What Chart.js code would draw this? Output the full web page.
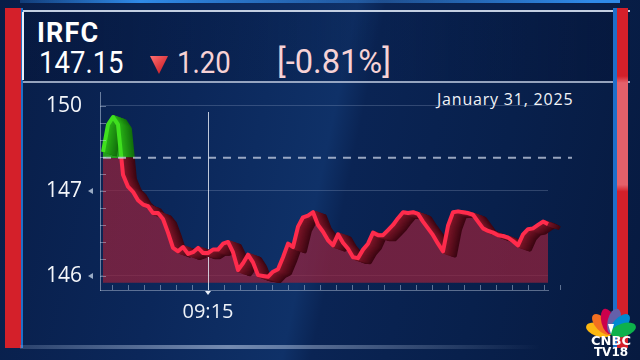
<!DOCTYPE html>
<html>
<head>
<meta charset="utf-8">
<script src="https://cdn.jsdelivr.net/npm/chart.js@4.4.1/dist/chart.umd.min.js"></script>
<style>
  html, body { margin: 0; padding: 0; }
  body {
    width: 640px; height: 360px; overflow: hidden; position: relative;
    background: linear-gradient(102deg, #081d47 0%, #0b275a 30%, #0f3168 50%, #0a2454 54%, #08204c 75%, #071a40 100%);
    font-family: 'Roboto', sans-serif;
  }
  #chart { position: absolute; left: 0; top: 0; }
  .bar { position: absolute; }
  .txt { position: absolute; line-height: 1; white-space: nowrap; transform-origin: 0 0; }
  #head { position: absolute; left: 10px; top: 10px; width: 620px; height: 69px;
    border-top: 2px solid #c3cfe2; border-bottom: 2px solid rgba(185,198,220,0.8);
    background: linear-gradient(90deg, rgba(5,20,55,0.5), rgba(5,25,65,0.2) 60%, rgba(5,20,55,0.5)); }
  #date { position: absolute; left: 437px; top: 91px; color: #f2f4f8; font: 16px 'Open Sans', sans-serif; letter-spacing: 0.8px; line-height: 1; }
  #logo { position: absolute; left: 582px; top: 305px; }
</style>
</head>
<body>
<div class="bar" style="left:20px;top:0px;width:600px;height:3px;background:linear-gradient(90deg,rgba(40,130,230,0.3),#2f8ae8 20%,rgba(60,140,230,0.4) 60%,#2f8ae8 95%);"></div>
<div id="head"></div>
<div class="bar" style="left:5px;top:8px;width:16px;height:340px;background:#d4202a;"></div>
<div class="bar" style="left:21px;top:8px;width:2px;height:340px;background:#1f6fc8;"></div>
<div class="bar" style="left:22px;top:12px;width:2px;height:68px;background:#e8eef8;"></div>
<div class="bar" style="left:613px;top:8px;width:4px;height:340px;background:#1f6fc8;"></div>
<div class="bar" style="left:617px;top:8px;width:11px;height:340px;background:linear-gradient(180deg,#d4202a 0%,#d4202a 20%,#e4606a 22%,#e4606a 52%,#d4202a 54%,#d4202a 100%);"></div>
<div class="bar" style="left:20px;top:345px;width:520px;height:4px;background:linear-gradient(90deg,rgba(180,200,230,0.2),rgba(200,215,240,0.55) 40%,rgba(200,215,240,0));"></div>

<div class="txt" style="left:37px;top:20px;color:#fff;font-size:27px;font-weight:bold;letter-spacing:1.2px;">IRFC</div>
<div class="txt" style="left:39px;top:46px;color:#fff;font-size:32px;transform:scaleX(0.86);">147.15</div>
<svg class="bar" style="left:150px;top:55px;" width="18" height="20" viewBox="0 0 18 20">
  <defs><linearGradient id="tri" x1="0" y1="0" x2="1" y2="1">
    <stop offset="0" stop-color="#ff7070"/><stop offset="1" stop-color="#c0101c"/></linearGradient></defs>
  <polygon points="0,1 18,1 9,19" fill="url(#tri)"/>
</svg>
<div class="txt" style="left:177px;top:46px;color:#f7d2d5;font-size:32px;transform:scaleX(0.86);">1.20</div>
<div class="txt" style="left:277px;top:44px;color:#f7d2d5;font-size:34px;transform:scaleX(0.96);">[-0.81%]</div>
<div id="date">January 31, 2025</div>

<canvas id="chart" width="640" height="360"></canvas>

<svg id="logo" width="58" height="52" viewBox="0 0 58 52">
  <g transform="translate(29,29)">
    <ellipse cx="0" cy="-13" rx="6.5" ry="13" fill="#fcb711" transform="rotate(-72)"/>
    <ellipse cx="0" cy="-13" rx="6.5" ry="13" fill="#f37021" transform="rotate(-43)"/>
    <ellipse cx="0" cy="-13" rx="6.5" ry="13" fill="#cc004c" transform="rotate(-14)"/>
    <ellipse cx="0" cy="-13" rx="6.5" ry="13" fill="#6460aa" transform="rotate(14)"/>
    <ellipse cx="0" cy="-13" rx="6.5" ry="13" fill="#0089d0" transform="rotate(43)"/>
    <ellipse cx="0" cy="-13" rx="6.5" ry="13" fill="#0db14b" transform="rotate(72)"/>
    <path d="M0,0 L-3,-10 L3,-10 Z" fill="#fff"/>
  </g>
  <text x="29" y="40" text-anchor="middle" fill="#fff" font-family="'DejaVu Sans'" font-weight="bold" font-size="13">CNBC</text>
  <text x="29" y="51" text-anchor="middle" fill="#fff" font-family="'DejaVu Sans'" font-weight="bold" font-size="12">TV18</text>
</svg>

<script>
// intraday IRFC prices (one point every few minutes)
const prices = [
  147.46, 147.78, 147.87, 147.78, 147.19, 147.05, 146.99, 146.89, 146.84, 146.82,
  146.74, 146.74, 146.67, 146.51, 146.33, 146.29, 146.34, 146.26, 146.28, 146.33,
  146.27, 146.27, 146.31, 146.31, 146.38, 146.40, 146.28, 146.07, 146.15, 146.25,
  146.16, 146.01, 146.00, 145.99, 146.05, 146.08, 146.22, 146.38, 146.34, 146.58,
  146.69, 146.71, 146.75, 146.60, 146.52, 146.42, 146.36, 146.49, 146.39, 146.32,
  146.22, 146.21, 146.31, 146.38, 146.51, 146.48, 146.48, 146.54, 146.60, 146.68,
  146.75, 146.74, 146.75, 146.73, 146.64, 146.56, 146.48, 146.38, 146.29, 146.59,
  146.75, 146.76, 146.75, 146.74, 146.72, 146.64, 146.56, 146.53, 146.51, 146.48,
  146.47, 146.45, 146.41, 146.36, 146.49, 146.55, 146.56, 146.60, 146.64, 146.61
];
const prevClose = 147.39;        // dashed reference line
const openIndex = 21;            // sample where the 09:15 marker sits
const openLabel = '09:15';
const yTickValues = [146, 147, 148];
const yTickLabels = ['146', '147', '150'];

const GREEN = '#3fe01e', RED = '#ff2b4c';

function splitGradient(chart, top, bottom) {
  const a = chart.chartArea;
  const y = chart.scales.y.getPixelForValue(prevClose);
  const g = chart.ctx.createLinearGradient(0, a.top, 0, a.bottom);
  const s = Math.min(1, Math.max(0, (y - a.top) / (a.bottom - a.top)));
  g.addColorStop(0, top); g.addColorStop(s, top);
  g.addColorStop(s, bottom); g.addColorStop(1, bottom);
  return g;
}

// 3D ribbon behind the price line, plus the chart chrome
const extrude = {
  id: 'extrude',
  beforeDatasetsDraw(chart) {
    const ctx = chart.ctx;
    const pts = chart.getDatasetMeta(0).data;
    const yPrev = chart.scales.y.getPixelForValue(prevClose);
    const { top, bottom } = chart.chartArea;
    const xo = chart.scales.x.getPixelForValue(openIndex);
    // 09:15 marker line
    ctx.save();
    ctx.strokeStyle = 'rgba(235,240,250,0.8)';
    ctx.lineWidth = 1;
    ctx.beginPath(); ctx.moveTo(Math.round(xo) + 0.5, top + 20); ctx.lineTo(Math.round(xo) + 0.5, bottom); ctx.stroke();
    ctx.restore();

    const depth = 14;
    const parts = [
      { y0: 0, y1: yPrev, front: [40, 175, 22], back: [18, 110, 12] },
      { y0: yPrev, y1: 360, front: [125, 22, 40], back: [60, 6, 18] }
    ];
    parts.forEach(p => {
      ctx.save();
      ctx.beginPath(); ctx.rect(0, p.y0, 640, p.y1 - p.y0); ctx.clip();
      ctx.lineWidth = 4; ctx.lineJoin = 'round';
      for (let k = depth; k >= 1; k--) {
        const t = k / depth;
        const c = p.front.map((v, i) => Math.round(v + (p.back[i] - v) * t));
        ctx.strokeStyle = `rgb(${c.join(',')})`;
        ctx.beginPath();
        pts.forEach((pt, i) => {
          const x = pt.x + k * 0.85, y = pt.y + k * 0.3;
          i ? ctx.lineTo(x, y) : ctx.moveTo(x, y);
        });
        ctx.stroke();
      }
      ctx.restore();
    });
  },
  afterDraw(chart) {
    const ctx = chart.ctx;
    const { left, right, top, bottom } = chart.chartArea;
    const sx = chart.scales.x, sy = chart.scales.y;
    ctx.save();
    // previous close
    const yPrev = sy.getPixelForValue(prevClose);
    ctx.setLineDash([8, 7]);
    ctx.strokeStyle = 'rgba(200,210,228,0.75)';
    ctx.lineWidth = 2;
    ctx.beginPath(); ctx.moveTo(left + 3, yPrev); ctx.lineTo(right + 24, yPrev); ctx.stroke();
    ctx.setLineDash([]);
    // minor ticks on the y axis
    ctx.strokeStyle = 'rgba(200,215,235,0.45)';
    ctx.lineWidth = 1;
    for (let v = 145.8; v < 148.15; v += 0.2) {
      const y = Math.round(sy.getPixelForValue(v)) + 0.5;
      if (y < top + 6 || y > bottom) continue;
      ctx.beginPath(); ctx.moveTo(left, y); ctx.lineTo(left + 6, y); ctx.stroke();
    }
    // minor ticks on the x axis
    for (let i = openIndex - 6 * 3.2; i < 93; i += 3.2) {
      const x = Math.round(sx.getPixelForValue(i)) + 0.5;
      if (x < left + 4) continue;
      ctx.beginPath(); ctx.moveTo(x, bottom - 5); ctx.lineTo(x, bottom); ctx.stroke();
    }
    // small pointers next to labels
    ctx.fillStyle = 'rgba(190,205,225,0.8)';
    [146, 147].forEach(v => {
      const y = sy.getPixelForValue(v);
      ctx.beginPath(); ctx.moveTo(88, y); ctx.lineTo(93, y - 3); ctx.lineTo(93, y + 3); ctx.fill();
    });
    const xo = sx.getPixelForValue(openIndex);
    ctx.fillStyle = '#e8eef8';
    ctx.beginPath(); ctx.moveTo(xo - 3, bottom + 1); ctx.lineTo(xo + 3, bottom + 1); ctx.lineTo(xo, bottom + 5); ctx.fill();
    ctx.restore();
  }
};

new Chart(document.getElementById('chart'), {
  type: 'line',
  data: {
    labels: prices.map((_, i) => i),
    datasets: [{
      data: prices.map((p, i) => ({ x: i, y: p })),
      borderColor: (c) => c.chart.chartArea ? splitGradient(c.chart, GREEN, RED) : RED,
      backgroundColor: (c) => c.chart.chartArea
        ? splitGradient(c.chart, 'rgba(40,170,25,0.9)', 'rgba(150,34,60,0.72)') : 'rgba(150,34,60,0.72)',
      borderWidth: 4,
      borderJoinStyle: 'round',
      pointRadius: 0,
      tension: 0,
      fill: { target: { value: 145.92 } },
      clip: false,
    }],
  },
  options: {
    responsive: false,
    animation: false,
    layout: { padding: { top: 92, right: 92, left: 0, bottom: 0 } },
    plugins: {
      legend: { display: false },
      tooltip: { enabled: false },
      filler: { drawTime: 'beforeDatasetsDraw' },
    },
    scales: {
      x: {
        type: 'linear',
        min: -0.6,
        max: 89,
        afterFit: (s) => { s.height = 70; },
        afterBuildTicks: (s) => { s.ticks = [{ value: openIndex }]; },
        ticks: {
          callback: () => openLabel,
          color: '#eef2f8',
          font: { family: 'Open Sans', size: 20 },
          padding: 2,
          maxRotation: 0,
        },
        grid: { display: false },
        border: { color: 'rgba(190,205,225,0.45)' },
      },
      y: {
        min: 145.835,
        max: 148.164,
        afterFit: (s) => { s.width = 100; },
        afterBuildTicks: (s) => { s.ticks = yTickValues.map(v => ({ value: v })); },
        ticks: {
          callback: (v, i) => yTickLabels[i],
          color: '#f4f6fa',
          font: { family: 'Open Sans', size: 21 },
          padding: 18,
        },
        grid: { color: 'rgba(190,205,230,0.22)', lineWidth: 1, drawTicks: false },
        border: { color: 'rgba(200,215,235,0.5)' },
      },
    },
  },
  plugins: [extrude],
});
</script>
</body>
</html>
